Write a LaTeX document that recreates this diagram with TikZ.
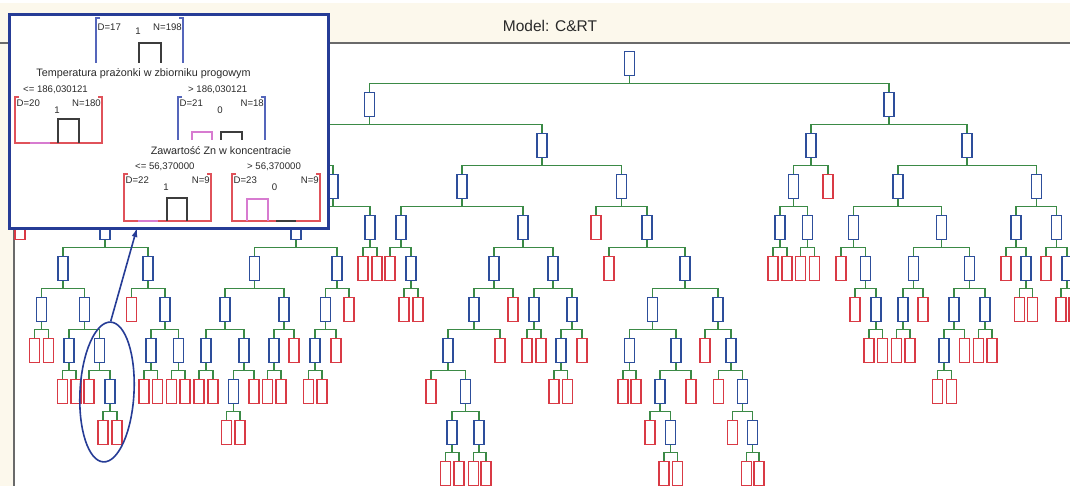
\documentclass[tikz,border=0pt]{standalone}
\usepackage{fontspec}
\setmainfont{Liberation Sans}
\usetikzlibrary{shapes.geometric,arrows.meta}

\definecolor{tblue}{HTML}{2D4E9B}
\definecolor{tred}{HTML}{D93A45}
\definecolor{tgreen}{HTML}{3B8A46}
\definecolor{frame}{HTML}{263C96}
\definecolor{iblue}{HTML}{5566BB}
\definecolor{ired}{HTML}{E0525A}
\definecolor{ipink}{HTML}{D77BD0}
\definecolor{ibar}{HTML}{3C3C3C}
\definecolor{txt}{HTML}{2A2A2A}
\definecolor{hdr}{HTML}{6A6A6A}
\definecolor{cream}{HTML}{FCF8EC}

\tikzset{
  treeb/.style={rectangle, draw=tblue, fill=white, line width=1.5pt,
    minimum width=10pt, minimum height=24pt, inner sep=0pt},
  treer/.style={treeb, draw=tred},
  link/.style={draw=tgreen, line width=1.6pt},
  ibr/.style={line width=1.3pt},
  hist/.style={draw=ibar, line width=1.3pt},
  lbl/.style={inner sep=0pt, text=txt, font=\fontsize{9.6}{11}\selectfont},
  split/.style={inner sep=0pt, text=txt, font=\fontsize{10.8}{12}\selectfont, anchor=base},
}
\newcommand{\tnb}[3]{\node[treeb] (#1) at (#2,#3) {};}
\newcommand{\tnr}[3]{\node[treer] (#1) at (#2,#3) {};}

\begin{document}
\begin{tikzpicture}[x=1pt,y=-1pt]
\clip (0,0) rectangle (1070,486);
\fill[white] (0,0) rectangle (1070,486);
% header band and left margin
\fill[cream] (0,3) rectangle (1070,42);
\fill[cream] (0,42) rectangle (13,486);
\draw[hdr, line width=1.8pt] (0,43) -- (1070,43);
\draw[hdr, line width=1.8pt] (14,43) -- (14,486);
\node[inner sep=0pt, text=txt, font=\fontsize{15.5}{18}\selectfont] (title) at (550,25.5) {Model: C\&RT};

% ---------------- tree nodes ----------------
\tnb{r1c630}{629.5}{63.5}
\tnb{r2c370}{369.5}{104.5} \tnb{r2c890}{889}{104.5}
\tnb{r3c198}{197.5}{145.5} \tnb{r3c542}{542}{145.5} \tnb{r3c811}{811}{145.5} \tnb{r3c967}{967}{145.5}
\tnb{r4c62}{62.5}{186.5} \tnb{r4c333}{333}{186.5} \tnb{r4c462}{462}{186.5} \tnb{r4c622}{621.5}{186.5}
\tnb{r4c794}{793.5}{186.5} \tnr{r4c828}{828}{186.5} \tnb{r4c898}{898}{186.5} \tnb{r4c1037}{1036.5}{186.5}
% row 5
\tnr{r5c20}{20}{227.5} \tnb{r5c105}{105}{227.5} \tnb{r5c296}{296}{227.5} \tnb{r5c369}{370}{227.5}
\tnb{r5c401}{401}{227.5} \tnb{r5c523}{523}{227.5} \tnr{r5c596}{596}{227.5} \tnb{r5c647}{647}{227.5}
\tnb{r5c780}{780}{227.5} \tnb{r5c807}{807.5}{227.5} \tnb{r5c854}{853.5}{227.5} \tnb{r5c942}{941.5}{227.5}
\tnb{r5c1016}{1016}{227.5} \tnb{r5c1056}{1056.5}{227.5}
% row 6
\tnb{r6c62}{63}{268.5} \tnb{r6c148}{148}{268.5} \tnb{r6c254}{254.5}{268.5} \tnb{r6c338}{337}{268.5}
\tnr{r6c363}{363}{268.5} \tnr{r6c377}{377}{268.5} \tnr{r6c390}{390}{268.5} \tnb{r6c411}{411}{268.5}
\tnb{r6c494}{494}{268.5} \tnb{r6c553}{553}{268.5} \tnr{r6c609}{609}{268.5} \tnb{r6c685}{685}{268.5}
\tnr{r6c773}{773}{268.5} \tnr{r6c787}{787}{268.5} \tnr{r6c801}{800.5}{268.5} \tnr{r6c815}{814.5}{268.5}
\tnr{r6c841}{841}{268.5} \tnb{r6c865}{865.5}{268.5} \tnb{r6c913}{913.5}{268.5} \tnb{r6c969}{969.5}{268.5}
\tnr{r6c1006}{1006}{268.5} \tnb{r6c1026}{1026}{268.5} \tnr{r6c1046}{1046}{268.5} \tnb{r6c1067}{1067}{268.5}
% row 7
\tnb{r7c42}{41.5}{309.5} \tnb{r7c84}{84.5}{309.5} \tnr{r7c131}{131.5}{309.5} \tnb{r7c165}{165}{309.5}
\tnb{r7c225}{225}{309.5} \tnb{r7c284}{284}{309.5} \tnb{r7c325}{325.5}{309.5} \tnr{r7c349}{349}{309.5}
\tnr{r7c404}{404}{309.5} \tnr{r7c418}{418}{309.5} \tnb{r7c474}{474}{309.5} \tnr{r7c513}{513}{309.5}
\tnb{r7c534}{534}{309.5} \tnb{r7c572}{572}{309.5} \tnb{r7c652}{652.5}{309.5} \tnb{r7c718}{718}{309.5}
\tnr{r7c855}{855}{309.5} \tnb{r7c876}{876}{309.5} \tnb{r7c903}{903}{309.5} \tnr{r7c923}{923}{309.5}
\tnb{r7c954}{954}{309.5} \tnb{r7c985}{985}{309.5} \tnr{r7c1019}{1019.5}{309.5} \tnr{r7c1033}{1032.5}{309.5}
\tnr{r7c1061}{1061}{309.5} \tnr{r7c1074}{1074}{309.5}
% row 8
\tnr{r8c35}{34.5}{350.5} \tnr{r8c48}{48.5}{350.5} \tnb{r8c69}{69}{350.5} \tnb{r8c100}{99.5}{350.5}
\tnb{r8c151}{151}{350.5} \tnb{r8c178}{178.5}{350.5} \tnb{r8c206}{206}{350.5} \tnb{r8c244}{244}{350.5}
\tnb{r8c274}{274}{350.5} \tnr{r8c294}{294}{350.5} \tnb{r8c315}{315}{350.5} \tnr{r8c336}{336}{350.5}
\tnb{r8c448}{448}{350.5} \tnr{r8c500}{500}{350.5} \tnr{r8c527}{527}{350.5} \tnr{r8c541}{541}{350.5}
\tnb{r8c561}{561}{350.5} \tnr{r8c582}{582}{350.5} \tnb{r8c629}{629.5}{350.5} \tnb{r8c676}{676}{350.5}
\tnr{r8c705}{705}{350.5} \tnb{r8c731}{731}{350.5} \tnr{r8c869}{869}{350.5} \tnr{r8c883}{882.5}{350.5}
\tnr{r8c897}{896.5}{350.5} \tnr{r8c910}{910}{350.5} \tnb{r8c944}{944}{350.5} \tnr{r8c965}{964.5}{350.5}
\tnr{r8c978}{978.5}{350.5} \tnr{r8c992}{992}{350.5}
% row 9
\tnr{r9c63}{62.5}{391.5} \tnr{r9c76}{76}{391.5} \tnr{r9c89}{89}{391.5} \tnb{r9c110}{110}{391.5}
\tnr{r9c144}{144}{391.5} \tnr{r9c158}{157.5}{391.5} \tnr{r9c172}{171.5}{391.5} \tnr{r9c185}{185}{391.5}
\tnr{r9c199}{199}{391.5} \tnr{r9c213}{213}{391.5} \tnb{r9c233}{233.5}{391.5} \tnr{r9c254}{254}{391.5}
\tnr{r9c267}{267.5}{391.5} \tnr{r9c281}{281}{391.5} \tnr{r9c308}{308.5}{391.5} \tnr{r9c322}{322}{391.5}
\tnr{r9c431}{431}{391.5} \tnb{r9c465}{465.5}{391.5} \tnr{r9c554}{554}{391.5} \tnr{r9c568}{567.5}{391.5}
\tnr{r9c623}{623}{391.5} \tnr{r9c636}{636}{391.5} \tnb{r9c660}{660}{391.5} \tnr{r9c691}{691}{391.5}
\tnr{r9c718}{718.5}{391.5} \tnb{r9c742}{742.5}{391.5} \tnr{r9c937}{937.5}{391.5} \tnr{r9c951}{951.5}{391.5}
% row 10
\tnr{r10c103}{103}{432.5} \tnr{r10c117}{117}{432.5} \tnr{r10c227}{226.5}{432.5} \tnr{r10c240}{240}{432.5}
\tnb{r10c452}{452}{432.5} \tnb{r10c479}{479}{432.5} \tnr{r10c650}{650}{432.5} \tnb{r10c670}{670.5}{432.5}
\tnr{r10c732}{732.5}{432.5} \tnb{r10c753}{752.5}{432.5}
% row 11
\tnr{r11c445}{445.5}{473.5} \tnr{r11c459}{459}{473.5} \tnr{r11c473}{473.5}{473.5} \tnr{r11c486}{486}{473.5}
\tnr{r11c664}{664}{473.5} \tnr{r11c677}{677.5}{473.5} \tnr{r11c746}{746.5}{473.5} \tnr{r11c759}{759}{473.5}

% ---------------- split connectors ----------------
\foreach \p/\a/\b in {
  r1c630/r2c370/r2c890, r2c370/r3c198/r3c542, r2c890/r3c811/r3c967,
  r3c198/r4c62/r4c333, r3c542/r4c462/r4c622, r3c811/r4c794/r4c828, r3c967/r4c898/r4c1037,
  r4c62/r5c20/r5c105, r4c333/r5c296/r5c369, r4c462/r5c401/r5c523, r4c622/r5c596/r5c647,
  r4c794/r5c780/r5c807, r4c898/r5c854/r5c942, r4c1037/r5c1016/r5c1056,
  r5c105/r6c62/r6c148, r5c296/r6c254/r6c338, r5c369/r6c363/r6c377, r5c401/r6c390/r6c411,
  r5c523/r6c494/r6c553, r5c647/r6c609/r6c685, r5c780/r6c773/r6c787, r5c807/r6c801/r6c815,
  r5c854/r6c841/r6c865, r5c942/r6c913/r6c969, r5c1016/r6c1006/r6c1026, r5c1056/r6c1046/r6c1067,
  r6c62/r7c42/r7c84, r6c148/r7c131/r7c165, r6c254/r7c225/r7c284, r6c338/r7c325/r7c349,
  r6c411/r7c404/r7c418, r6c494/r7c474/r7c513, r6c553/r7c534/r7c572, r6c685/r7c652/r7c718,
  r6c865/r7c855/r7c876, r6c913/r7c903/r7c923, r6c969/r7c954/r7c985, r6c1026/r7c1019/r7c1033,
  r6c1067/r7c1061/r7c1074,
  r7c42/r8c35/r8c48, r7c84/r8c69/r8c100, r7c165/r8c151/r8c178, r7c225/r8c206/r8c244,
  r7c284/r8c274/r8c294, r7c325/r8c315/r8c336, r7c474/r8c448/r8c500, r7c534/r8c527/r8c541,
  r7c572/r8c561/r8c582, r7c652/r8c629/r8c676, r7c718/r8c705/r8c731, r7c876/r8c869/r8c883,
  r7c903/r8c897/r8c910, r7c954/r8c944/r8c965, r7c985/r8c978/r8c992,
  r8c69/r9c63/r9c76, r8c100/r9c89/r9c110, r8c151/r9c144/r9c158, r8c178/r9c172/r9c185,
  r8c206/r9c199/r9c213, r8c244/r9c233/r9c254, r8c274/r9c267/r9c281, r8c315/r9c308/r9c322,
  r8c448/r9c431/r9c465, r8c561/r9c554/r9c568, r8c629/r9c623/r9c636, r8c676/r9c660/r9c691,
  r8c731/r9c718/r9c742, r8c944/r9c937/r9c951,
  r9c110/r10c103/r10c117, r9c233/r10c227/r10c240, r9c465/r10c452/r10c479,
  r9c660/r10c650/r10c670, r9c742/r10c732/r10c753,
  r10c452/r11c445/r11c459, r10c479/r11c473/r11c486, r10c670/r11c664/r11c677, r10c753/r11c746/r11c759}
  {\draw[link] (\p.south) -- ++(0,7.3) -| (\a.north)
               (\p.south) -- ++(0,7.3) -| (\b.north);}

% ---------------- highlighted branch ----------------
\node[ellipse, draw=frame, line width=1.6pt, minimum width=54pt, minimum height=140pt,
      inner sep=0pt, rotate=-3] (ell) at (107,392) {};

% ---------------- enlarged view of the branch ----------------
\node[rectangle, draw=frame, fill=white, line width=3pt, anchor=north west,
      minimum width=319pt, minimum height=214pt, inner sep=0pt] (inset) at (8,13) {};
\coordinate (tip) at (137,228);
\draw[frame, line width=1.6pt, -{Latex[length=9pt,width=6pt]}] (ell.north) -- (tip);

% root node of the enlarged branch
\draw[iblue, ibr] (100,18) -- (96,18) -- (96,63);
\draw[iblue, ibr] (179,18) -- (183,18) -- (183,63);
\draw[hist] (139,63) -- (139,43) -- (161,43) -- (161,63);
\node[lbl, anchor=base west] (t17d) at (97.5,31) {D=17};
\node[lbl, anchor=base east] (t17n) at (182,31) {N=198};
\node[lbl, anchor=base] (t17c) at (138,35) {1};
\node[split] (s1) at (143.5,77) {Temperatura prażonki w zbiorniku progowym};
\node[lbl, anchor=base west] (s1l) at (23,93) {<= 186,030121};
\node[lbl, anchor=base west] (s1r) at (188,93) {> 186,030121};

% left leaf D=20
\draw[ired, ibr] (19,97) -- (15,97) -- (15,143) -- (102,143) -- (102,97) -- (98,97);
\draw[ipink, ibr] (30,143) -- (50,143);
\draw[hist] (58,143) -- (58,119) -- (79,119) -- (79,143);
\node[lbl, anchor=base west] (t20d) at (16.5,107) {D=20};
\node[lbl, anchor=base east] (t20n) at (101,107) {N=180};
\node[lbl, anchor=base] (t20c) at (57,114) {1};

% right inner node D=21
\draw[iblue, ibr] (182,97) -- (178,97) -- (178,140);
\draw[iblue, ibr] (261,97) -- (265,97) -- (265,140);
\draw[ipink, ibr] (192,140) -- (192,132) -- (212,132) -- (212,140);
\draw[hist] (221,140) -- (221,132) -- (242,132) -- (242,140);
\node[lbl, anchor=base west] (t21d) at (179.5,107) {D=21};
\node[lbl, anchor=base east] (t21n) at (264,107) {N=18};
\node[lbl, anchor=base] (t21c) at (220,114) {0};
\node[split] (s2) at (221,155) {Zawartość Zn w koncentracie};
\node[lbl, anchor=base west] (s2l) at (135,170) {<= 56,370000};
\node[lbl, anchor=base west] (s2r) at (247,170) {> 56,370000};

% leaf D=22
\draw[ired, ibr] (128,174) -- (124,174) -- (124,221) -- (211,221) -- (211,174) -- (207,174);
\draw[ipink, ibr] (138,221) -- (158,221);
\draw[hist] (167,221) -- (167,198) -- (187,198) -- (187,221);
\node[lbl, anchor=base west] (t22d) at (125.5,184) {D=22};
\node[lbl, anchor=base east] (t22n) at (210,184) {N=9};
\node[lbl, anchor=base] (t22c) at (166,191) {1};

% leaf D=23
\draw[ired, ibr] (236,174) -- (232,174) -- (232,221) -- (320,221) -- (320,174) -- (316,174);
\draw[ibar, ibr] (276,221) -- (296,221);
\draw[ipink, ibr] (247,221) -- (247,199) -- (268,199) -- (268,221);
\node[lbl, anchor=base west] (t23d) at (233.5,184) {D=23};
\node[lbl, anchor=base east] (t23n) at (319,184) {N=9};
\node[lbl, anchor=base] (t23c) at (274.5,191) {0};
\end{tikzpicture}
\end{document}
